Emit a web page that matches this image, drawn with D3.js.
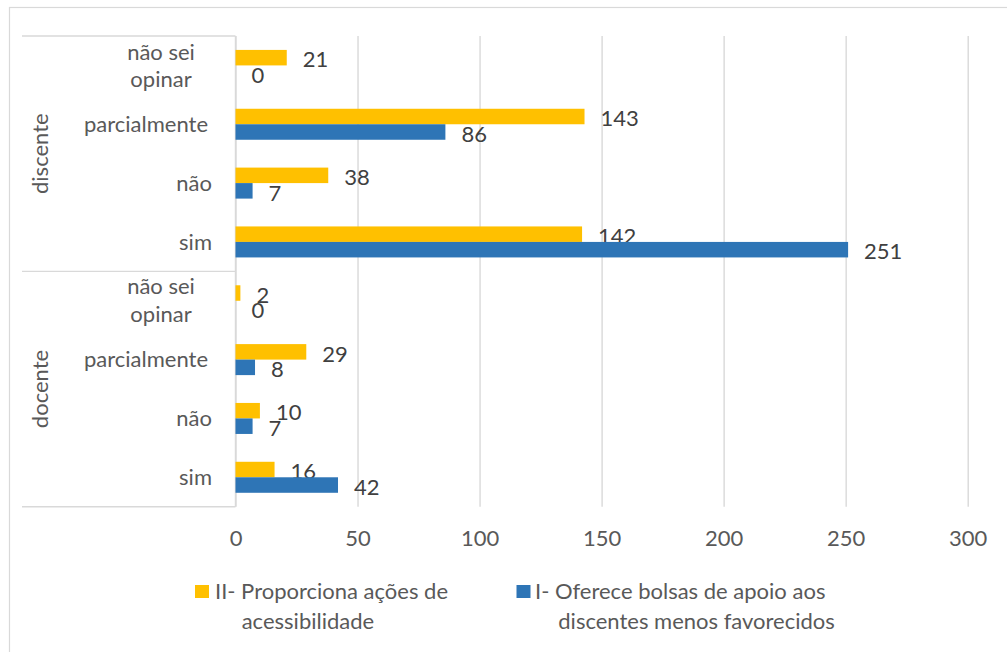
<!DOCTYPE html>
<html>
<head>
<meta charset="utf-8">
<script src="https://cdn.jsdelivr.net/npm/d3@7"></script>
<style>
  html, body { margin: 0; padding: 0; background: #ffffff; }
  svg { display: block; }
  text { font-family: Lato, "Open Sans", sans-serif; }
</style>
</head>
<body>
<svg id="chart" width="1007" height="652"></svg>
<script>
// ---- data ----
const groups = ["discente", "docente"];
const answers = [["não sei", "opinar"], ["parcialmente"], ["não"], ["sim"]];
const seriesNames = ["II", "I"];
const seriesLegend = [
  ["II- Proporciona ações de", "acessibilidade"],
  ["I- Oferece bolsas de apoio aos", "discentes menos favorecidos"]
];
// values per row, top to bottom: discente (não sei opinar, parcialmente, não, sim), docente (same)
const valuesII = [21, 143, 38, 142, 2, 29, 10, 16];
const valuesI  = [0, 86, 7, 251, 0, 8, 7, 42];
const tickValues = [0, 50, 100, 150, 200, 250, 300];
const colors = ["#FFC000", "#2E75B6"];

(function () {
// ---- layout ----
const svg = d3.select("#chart");
const pTop = 36, pBottom = 506.7, pLeft = 235.5, pRight = 967.7;
const fs = 22;

// chart border (only top/left visible within the crop)
svg.append("rect").attr("x", 9.5).attr("y", 7.5).attr("width", 1200).attr("height", 800)
  .attr("fill", "none").attr("stroke", "#d9d9d9").attr("stroke-width", 1.2);

const x = d3.scaleLinear().domain([0, 300]).range([pLeft, pRight]);

const rows = [];
groups.forEach((g, gi) => answers.forEach((a, ai) => rows.push({ group: g, gi, label: a, key: g + "|" + a.join(" ") })));
rows.forEach((r, i) => { r.II = valuesII[i]; r.I = valuesI[i]; });

const y = d3.scaleBand().domain(rows.map(r => r.key)).range([pTop, pBottom]).paddingInner(0).paddingOuter(0);
const barH = 15.5;
const ys = d3.scaleBand().domain(seriesNames).range([0, barH * 2]);
const off = (y.bandwidth() - barH * 2) / 2;

// gridlines + tick labels via axis
const axis = d3.axisBottom(x).tickValues(tickValues).tickSize(-(pBottom - pTop)).tickSizeOuter(0);
const ax = svg.append("g").attr("transform", `translate(0,${pBottom})`).call(axis);
ax.select(".domain").remove();
ax.selectAll(".tick line").attr("stroke", "#d9d9d9").attr("stroke-width", 1.4);
ax.selectAll(".tick text").attr("y", 31.5).attr("dy", "0.35em")
  .attr("fill", "#595959").style("font-size", fs + "px").style("font-family", "Lato, sans-serif");

// category axis lines
svg.append("line").attr("x1", pLeft).attr("x2", pLeft).attr("y1", pTop).attr("y2", pBottom)
  .attr("stroke", "#d9d9d9").attr("stroke-width", 1.4);
const sepY = [pTop, y(rows[4].key), pBottom];
svg.selectAll("line.sep").data(sepY).join("line").attr("class", "sep")
  .attr("x1", 22).attr("x2", pLeft).attr("y1", d => d).attr("y2", d => d)
  .attr("stroke", "#d9d9d9").attr("stroke-width", 1.4);

// bars
const rowG = svg.selectAll("g.row").data(rows).join("g").attr("class", "row")
  .attr("transform", d => `translate(0,${y(d.key) + off})`);
seriesNames.forEach((s, si) => {
  rowG.append("rect")
    .attr("x", x(0))
    .attr("y", ys(s))
    .attr("width", d => x(d[s]) - x(0))
    .attr("height", ys.bandwidth())
    .attr("fill", colors[si]);
  rowG.append("text")
    .attr("x", d => x(d[s]) + 16)
    .attr("y", ys(s) + ys.bandwidth() / 2 + 2)
    .attr("dy", "0.35em")
    .attr("fill", "#404040")
    .style("font-size", fs + "px")
    .text(d => d[s]);
});

// category labels
rows.forEach(r => {
  const cy = y(r.key) + y.bandwidth() / 2;
  if (r.label.length === 1) {
    svg.append("text").attr("x", r.label[0] === "parcialmente" ? 208 : 212).attr("y", cy).attr("dy", "0.35em")
      .attr("text-anchor", "end").attr("fill", "#595959").style("font-size", fs + "px").text(r.label[0]);
  } else {
    const base = r.gi === 0 ? -5.5 : -6.5;
    r.label.forEach((t, li) => {
      svg.append("text").attr("x", 161).attr("y", cy + base + li * 27.3)
        .attr("text-anchor", "middle").attr("fill", "#595959").style("font-size", fs + "px").text(t);
    });
  }
});

// group labels
groups.forEach((g, gi) => {
  const y0 = y(rows[gi * 4].key), y1 = y(rows[gi * 4 + 3].key) + y.bandwidth();
  const cy = (y0 + y1) / 2;
  svg.append("text").attr("transform", `translate(40,${cy}) rotate(-90)`)
    .attr("text-anchor", "middle").attr("dy", "0.35em").attr("fill", "#595959")
    .style("font-size", fs + "px").text(g);
});

// legend
const legendPos = [{ sx: 195, tx: 215, tx2: 241.7 }, { sx: 516.5, tx: 535, tx2: 558.3 }];
seriesLegend.forEach((lines, i) => {
  const p = legendPos[i];
  svg.append("rect").attr("x", p.sx).attr("y", 585).attr("width", 14).attr("height", 13).attr("fill", colors[i]);
  svg.append("text").attr("x", p.tx).attr("y", 591.7).attr("dy", "0.35em").attr("fill", "#595959")
    .style("font-size", fs + "px").text(lines[0]);
  svg.append("text").attr("x", p.tx2).attr("y", 621.7).attr("dy", "0.35em").attr("fill", "#595959")
    .style("font-size", fs + "px").text(lines[1]);
});
})();
</script>
</body>
</html>
